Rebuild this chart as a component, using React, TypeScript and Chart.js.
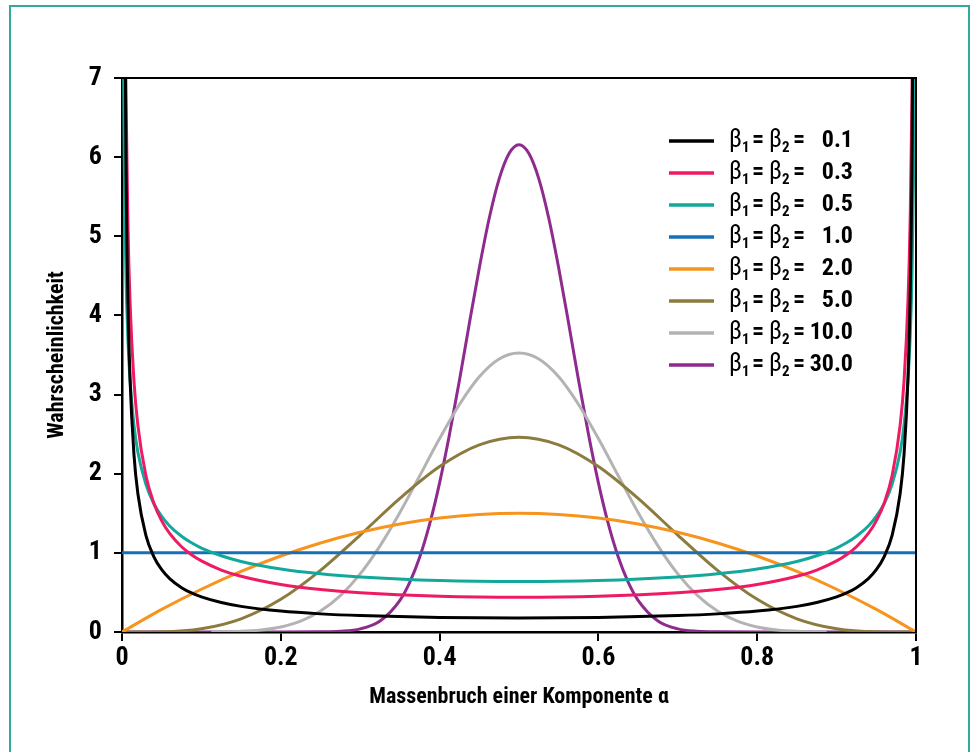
import React, { useEffect, useRef } from "react";
import { Chart, registerables } from "chart.js";

Chart.register(...registerables);

const FONT = "'Roboto Condensed', 'Liberation Sans Narrow', 'DejaVu Sans Condensed', sans-serif";

// Legend labels (value of beta1 = beta2) and line colours
const seriesLabels = ["0.1", "0.3", "0.5", "1.0", "2.0", "5.0", "10.0", "30.0"];
const seriesColors = ["#000000", "#ee1b62", "#12a89b", "#1570b8", "#f7941d", "#8c7b3f", "#b3b3b3", "#8f2a8f"];

// x positions for the U-shaped curves (0.1, 0.3, 0.5)
const alphaU = [0.001, 0.002, 0.003, 0.005, 0.0075, 0.01, 0.015, 0.02, 0.03, 0.04, 0.05, 0.06, 0.075, 0.0875, 0.1, 0.125, 0.15, 0.2, 0.25, 0.3, 0.4,
  0.5,
  0.6, 0.7, 0.75, 0.8, 0.85, 0.875, 0.9, 0.9125, 0.925, 0.94, 0.95, 0.96, 0.97, 0.98, 0.985, 0.99, 0.9925, 0.995, 0.997, 0.998, 0.999];
const beta01 = [25.5, 13.6, 9.48, 6.0, 4.18, 3.23, 2.25, 1.747, 1.224, 0.953, 0.787, 0.675, 0.560, 0.493, 0.443, 0.372, 0.324, 0.264, 0.229, 0.207, 0.183,
  0.177,
  0.183, 0.207, 0.229, 0.264, 0.324, 0.372, 0.443, 0.493, 0.560, 0.675, 0.787, 0.953, 1.224, 1.747, 2.25, 3.23, 4.18, 6.0, 9.48, 13.6, 25.5];
const beta03 = [20.95, 12.9, 9.73, 6.81, 5.14, 4.21, 3.18, 2.61, 1.98, 1.630, 1.404, 1.245, 1.077, 0.976, 0.898, 0.783, 0.704, 0.600, 0.537, 0.496, 0.452,
  0.439,
  0.452, 0.496, 0.537, 0.600, 0.704, 0.783, 0.898, 0.976, 1.077, 1.245, 1.404, 1.630, 1.98, 2.61, 3.18, 4.21, 5.14, 6.81, 9.73, 12.9, 20.95];
const beta05 = [10.07, 7.13, 5.82, 4.51, 3.69, 3.20, 2.62, 2.27, 1.87, 1.624, 1.46, 1.34, 1.21, 1.127, 1.061, 0.963, 0.891, 0.796, 0.735, 0.695, 0.650,
  0.637,
  0.650, 0.695, 0.735, 0.796, 0.891, 0.963, 1.061, 1.127, 1.21, 1.34, 1.46, 1.624, 1.87, 2.27, 2.62, 3.20, 3.69, 4.51, 5.82, 7.13, 10.07];

// flat curve
const alphaFlat = [0, 1];
const beta1 = [1, 1];

// x positions for 2.0 and 5.0
const alphaMid = [0, 0.05, 0.1, 0.15, 0.2, 0.25, 0.3, 0.35, 0.4, 0.45, 0.5, 0.55, 0.6, 0.65, 0.7, 0.75, 0.8, 0.85, 0.9, 0.95, 1];
const beta2 = [0, 0.285, 0.54, 0.765, 0.96, 1.125, 1.26, 1.365, 1.44, 1.485, 1.5, 1.485, 1.44, 1.365, 1.26, 1.125, 0.96, 0.765, 0.54, 0.285, 0];
const beta5 = [0, 0.003, 0.041, 0.167, 0.413, 0.779, 1.225, 1.688, 2.090, 2.364, 2.461, 2.364, 2.090, 1.688, 1.225, 0.779, 0.413, 0.167, 0.041, 0.003, 0];

// x positions for 10.0
const alpha10 = [0.1125, 0.15, 0.175, 0.2, 0.225, 0.25, 0.275, 0.3, 0.325, 0.35, 0.375, 0.4, 0.425, 0.45, 0.475, 0.5,
  0.525, 0.55, 0.575, 0.6, 0.625, 0.65, 0.675, 0.7, 0.725, 0.75, 0.775, 0.8, 0.825, 0.85, 0.8875];
const beta10 = [0.001, 0.008, 0.025, 0.064, 0.138, 0.265, 0.460, 0.735, 1.089, 1.510, 1.974, 2.444, 2.875, 3.225, 3.450, 3.524,
  3.450, 3.225, 2.875, 2.444, 1.974, 1.510, 1.089, 0.735, 0.460, 0.265, 0.138, 0.064, 0.025, 0.008, 0.001];

// x positions for 30.0
const alpha30 = [0, 0.2, 0.25, 0.275, 0.3, 0.325, 0.35, 0.3625, 0.375, 0.3875, 0.4, 0.4125, 0.425, 0.4375, 0.45, 0.4625, 0.475, 0.4875, 0.5,
  0.5125, 0.525, 0.5375, 0.55, 0.5625, 0.575, 0.5875, 0.6, 0.6125, 0.625, 0.6375, 0.65, 0.675, 0.7, 0.725, 0.75, 0.8, 1];
const beta30 = [0, 0, 0.002, 0.009, 0.039, 0.139, 0.400, 0.630, 0.947, 1.365, 1.885, 2.498, 3.182, 3.900, 4.600, 5.228, 5.726, 6.046, 6.157,
  6.046, 5.726, 5.228, 4.600, 3.900, 3.182, 2.498, 1.885, 1.365, 0.947, 0.630, 0.400, 0.139, 0.039, 0.009, 0.002, 0, 0];

// axis tick values
const xTicks = [0, 0.2, 0.4, 0.6, 0.8, 1];
const yTicks = [0, 1, 2, 3, 4, 5, 6, 7];

const seriesX = [alphaU, alphaU, alphaU, alphaFlat, alphaMid, alphaMid, alpha10, alpha30];
const seriesY = [beta01, beta03, beta05, beta1, beta2, beta5, beta10, beta30];

const framePlugin = {
  id: "frame",
  afterDatasetsDraw(chart: any) {
    const { ctx, chartArea } = chart;
    const { left, top, right, bottom } = chartArea;
    ctx.save();
    ctx.strokeStyle = "#000";
    ctx.lineWidth = 2;
    ctx.beginPath();
    ctx.moveTo(left, top);
    ctx.lineTo(right, top);
    ctx.lineTo(right, bottom);
    ctx.stroke();
    ctx.restore();
  },
};

const legendPlugin = {
  id: "betaLegend",
  afterDraw(chart: any) {
    const ctx = chart.ctx;
    ctx.save();
    const rowTop = 141;
    const rowStep = 32;
    chart.data.datasets.forEach((ds: any, i: number) => {
      const y = rowTop + i * rowStep;
      ctx.strokeStyle = ds.borderColor;
      ctx.lineWidth = 3.5;
      ctx.beginPath();
      ctx.moveTo(669, y);
      ctx.lineTo(714, y);
      ctx.stroke();
      const base = y + 6;
      ctx.fillStyle = "#000";
      ctx.textBaseline = "alphabetic";
      ctx.textAlign = "left";
      ctx.font = `25px ${FONT}`;
      ctx.fillText("β", 729, base);
      ctx.fillText("β", 769, base);
      ctx.font = `bold 15px ${FONT}`;
      ctx.fillText("1", 742, base + 5);
      ctx.fillText("2", 782, base + 5);
      ctx.font = `bold 24px ${FONT}`;
      ctx.fillText("=", 752, base);
      ctx.fillText("=", 793, base);
      ctx.textAlign = "right";
      ctx.fillText(ds.label, 853, base);
    });
    ctx.restore();
  },
};

export default function App() {
  const ref = useRef<HTMLCanvasElement>(null);
  useEffect(() => {
    if (!ref.current) return;
    const datasets = seriesLabels.map((label, s) => ({
      label,
      data: seriesX[s].map((x, i) => ({ x, y: seriesY[s][i] })),
      borderColor: seriesColors[s],
      backgroundColor: seriesColors[s],
      borderWidth: 3,
      pointRadius: 0,
      fill: false,
      cubicInterpolationMode: "monotone" as const,
    }));
    const tickFont = { family: FONT, size: 26, weight: "bold" as const };
    const titleFont = { family: FONT, size: 22, weight: "bold" as const };
    const chart = new Chart(ref.current, {
      type: "line",
      data: { datasets },
      options: {
        responsive: false,
        animation: false,
        events: [],
        layout: { padding: { left: 0, top: 78, right: 59, bottom: 0 } },
        plugins: { legend: { display: false }, tooltip: { enabled: false } },
        scales: {
          x: {
            type: "linear",
            min: 0,
            max: 1,
            afterFit: (s: any) => { s.height = 120; },
            afterBuildTicks: (s: any) => { s.ticks = xTicks.map((v) => ({ value: v })); },
            ticks: {
              autoSkip: false,
              maxRotation: 0,
              padding: 2,
              color: "#000",
              font: tickFont,
              callback: (v: any) => (v === 0 || v === 1 ? String(v) : Number(v).toFixed(1)),
            },
            grid: { drawOnChartArea: false, drawTicks: true, tickLength: 9, color: "#000", lineWidth: 2 },
            border: { display: true, color: "#000", width: 2.5 },
            title: {
              display: true,
              text: "Massenbruch einer Komponente α",
              color: "#000",
              font: titleFont,
              padding: { top: 0, bottom: 41 },
            },
          },
          y: {
            type: "linear",
            min: 0,
            max: 7,
            afterFit: (s: any) => { s.width = 122; },
            afterBuildTicks: (s: any) => { s.ticks = yTicks.map((v) => ({ value: v })); },
            ticks: { autoSkip: false, padding: 12, color: "#000", font: tickFont },
            grid: { drawOnChartArea: false, drawTicks: true, tickLength: 8, color: "#000", lineWidth: 2 },
            border: { display: true, color: "#000", width: 2.5 },
            title: {
              display: true,
              text: "Wahrscheinlichkeit",
              color: "#000",
              font: titleFont,
              padding: { top: 44, bottom: 0 },
            },
          },
        },
      },
      plugins: [framePlugin, legendPlugin],
    });
    return () => chart.destroy();
  }, []);

  return (
    <div style={{ position: "absolute", left: 0, top: 0, width: 975, height: 752, overflow: "hidden", background: "#fff" }}>
      <div
        style={{
          position: "absolute",
          left: 9,
          top: 5,
          width: 957,
          height: 800,
          border: "2px solid #35a89b",
        }}
      />
      <canvas
        ref={ref}
        width={975}
        height={752}
        style={{ position: "absolute", left: 0, top: 0, width: 975, height: 752 }}
      />
    </div>
  );
}
